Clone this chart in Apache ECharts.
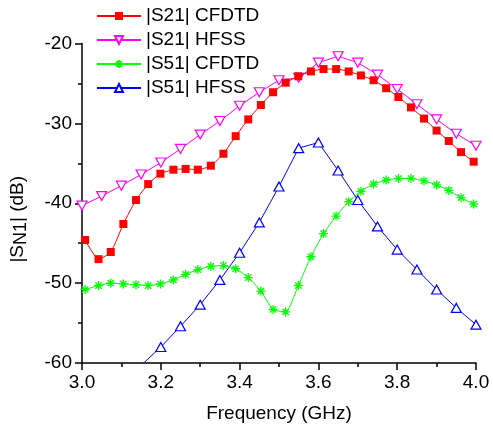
<!DOCTYPE html>
<html>
<head>
<meta charset="utf-8">
<script src="https://cdn.jsdelivr.net/npm/echarts@6/dist/echarts.min.js"></script>
<style>
  html, body { margin: 0; padding: 0; background: #fff; }
  #chart { width: 493px; height: 429px; }
</style>
</head>
<body>
<div id="chart"></div>
<script>
// CFDTD samples (markers)
const cfdtdFreq = [3.008, 3.042, 3.073, 3.105, 3.137, 3.168, 3.199, 3.232, 3.263, 3.294, 3.327, 3.359,
    3.39, 3.422, 3.454, 3.485, 3.517, 3.549, 3.581, 3.613, 3.645, 3.677, 3.708, 3.74,
    3.772, 3.803, 3.835, 3.868, 3.9, 3.931, 3.962, 3.994];
const s21Cfdtd = [-44.6, -47.0, -46.1, -42.6, -39.6, -37.6, -36.3, -35.8, -35.7, -35.8, -35.3, -33.8,
    -31.6, -29.5, -27.7, -26.1, -24.9, -24.1, -23.5, -23.2, -23.2, -23.5, -24.0, -24.6,
    -25.6, -26.7, -28.0, -29.4, -30.9, -32.2, -33.6, -34.8];
const s51Cfdtd = [-50.8, -50.3, -50.0, -50.1, -50.2, -50.3, -50.1, -49.6, -48.9, -48.3, -47.9, -47.8,
    -48.2, -49.3, -51.0, -53.3, -53.6, -50.3, -46.7, -43.8, -41.6, -39.8, -38.5, -37.6,
    -37.1, -36.9, -36.9, -37.2, -37.7, -38.4, -39.3, -40.1];

// HFSS samples
const hfssFreq = [3.0, 3.05, 3.1, 3.15, 3.2, 3.25, 3.3, 3.35, 3.4, 3.45, 3.5,
    3.55, 3.6, 3.65, 3.7, 3.75, 3.8, 3.85, 3.9, 3.95, 4.0];
const s21Hfss = [-40.3, -39.1, -37.8, -36.4, -34.9, -33.2, -31.4, -29.7, -27.8, -26.1, -24.6,
    -24.3, -22.4, -21.6, -22.4, -23.9, -25.7, -27.6, -29.5, -31.3, -32.8];
const s51Hfss = [null, null, null, -60.3, -58.0, -55.4, -52.7, -49.6, -46.2, -42.4, -37.9,
    -33.1, -32.4, -35.9, -39.6, -42.9, -45.8, -48.3, -50.8, -53.1, -55.2];

const seriesNames = ["|S21| CFDTD", "|S21| HFSS", "|S51| CFDTD", "|S51| HFSS"];

const font = "Arial, 'Liberation Sans', sans-serif";
const asterisk = "path://M5,0L5,10M0,5L10,5M1.5,1.5L8.5,8.5M1.5,8.5L8.5,1.5";

function pairs(xs, ys) {
    return xs.map((x, i) => [x, ys[i]]);
}

const chart = echarts.init(document.getElementById("chart"));

const option = {
    animation: false,
    backgroundColor: "#fff",
    grid: { left: 81, right: 17, top: 43.5, bottom: 66 },
    legend: {
        orient: "vertical",
        left: 96,
        top: 6,
        padding: 0,
        itemWidth: 44,
        itemHeight: 10,
        itemGap: 4,
        textStyle: { fontFamily: font, fontSize: 19, color: "#000", lineHeight: 20 },
        data: seriesNames
    },
    xAxis: {
        type: "value",
        min: 3.0,
        max: 4.0,
        interval: 0.2,
        name: "Frequency (GHz)",
        nameLocation: "middle",
        nameGap: 41,
        nameTextStyle: { fontFamily: font, fontSize: 19, color: "#000" },
        axisLine: { onZero: false, lineStyle: { color: "#000", width: 1.5 } },
        axisTick: { inside: false, length: 7, lineStyle: { color: "#000", width: 1.5 } },
        minorTick: { show: true, splitNumber: 2, length: 4, lineStyle: { color: "#000", width: 1.5 } },
        axisLabel: {
            margin: 10,
            fontFamily: font, fontSize: 19, color: "#000",
            formatter: (v) => v.toFixed(1)
        },
        splitLine: { show: false }
    },
    yAxis: {
        type: "value",
        min: -60,
        max: -20,
        interval: 10,
        name: "{a||S}{b|N1}{a|| (dB)}",
        nameLocation: "middle",
        nameGap: 48,
        nameRotate: 90,
        nameTextStyle: {
            padding: [0, 32, 0, 0],
            rich: {
                a: { fontFamily: font, fontSize: 19, color: "#000", lineHeight: 18, verticalAlign: "top" },
                b: { fontFamily: font, fontSize: 18, color: "#000", lineHeight: 26, verticalAlign: "middle" }
            }
        },
        axisLine: { onZero: false, lineStyle: { color: "#000", width: 1.5 } },
        axisTick: { inside: false, length: 7, lineStyle: { color: "#000", width: 1.5 } },
        minorTick: { show: true, splitNumber: 2, length: 4, lineStyle: { color: "#000", width: 1.5 } },
        axisLabel: { margin: 10, fontFamily: font, fontSize: 19, color: "#000" },
        splitLine: { show: false }
    },
    series: [
        {
            name: seriesNames[0],
            type: "line",
            data: pairs(cfdtdFreq, s21Cfdtd),
            smooth: 0.2,
            symbol: "rect",
            symbolSize: 8,
            itemStyle: { color: "#ff0000" },
            lineStyle: { color: "#ff0000", width: 1 },
            z: 4
        },
        {
            name: seriesNames[1],
            type: "line",
            data: pairs(hfssFreq, s21Hfss),
            symbol: "triangle",
            symbolRotate: 180,
            symbolSize: [10, 9],
            itemStyle: { color: "#fff", borderColor: "#ff00ff", borderWidth: 1.2 },
            lineStyle: { color: "#ff00ff", width: 1 },
            z: 3
        },
        {
            name: seriesNames[2],
            type: "line",
            data: pairs(cfdtdFreq, s51Cfdtd),
            smooth: 0.2,
            symbol: asterisk,
            symbolSize: 9,
            itemStyle: { color: "#00ff00", borderColor: "#00ff00", borderWidth: 1.3 },
            lineStyle: { color: "#00ff00", width: 1 },
            z: 4
        },
        {
            name: seriesNames[3],
            type: "line",
            data: pairs(hfssFreq, s51Hfss),
            connectNulls: false,
            symbol: "triangle",
            symbolSize: [10, 9],
            itemStyle: { color: "#fff", borderColor: "#0000ff", borderWidth: 1.2 },
            lineStyle: { color: "#0000ff", width: 1 },
            z: 3
        }
    ]
};

chart.setOption(option);
</script>
</body>
</html>
